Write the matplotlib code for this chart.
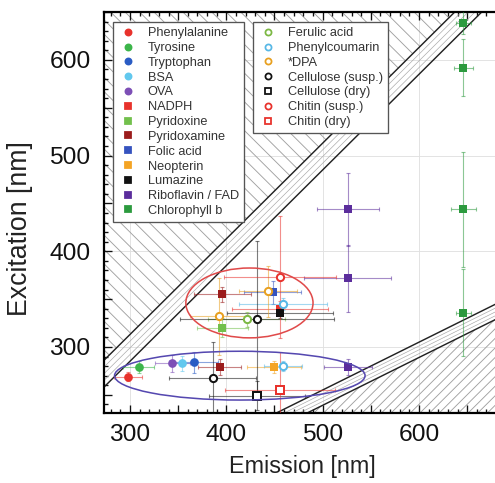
import matplotlib
matplotlib.use('Agg')
import matplotlib.pyplot as plt
import numpy as np
from matplotlib.lines import Line2D
from matplotlib.patches import Ellipse, Polygon
from matplotlib.collections import LineCollection
from matplotlib.ticker import MultipleLocator, FuncFormatter

plt.rcParams['font.family'] = ['Liberation Sans', 'DejaVu Sans']

# compounds: name, colour, marker, filled
compound_names = ['Phenylalanine', 'Tyrosine', 'Tryptophan', 'BSA', 'OVA',
                  'NADPH', 'Pyridoxine', 'Pyridoxamine', 'Folic acid',
                  'Neopterin', 'Lumazine', 'Riboflavin / FAD', 'Chlorophyll b',
                  'Ferulic acid', 'Phenylcoumarin', '*DPA', 'Cellulose (susp.)',
                  'Cellulose (dry)', 'Chitin (susp.)', 'Chitin (dry)']
compound_colors = ['#e8322c', '#3cb54a', '#2a5cc4', '#62c8ee', '#7d4fb6',
                   '#e8322c', '#72c04c', '#9b1c1c', '#3553bf', '#f4a424',
                   '#111111', '#5b2d9c', '#2c9a3e',
                   '#7cb844', '#58b8e6', '#e8a020', '#111111',
                   '#111111', '#e8322c', '#e8322c']
compound_markers = ['o'] * 5 + ['s'] * 8 + ['o', 'o', 'o', 'o', 's', 'o', 's']
compound_filled = [True] * 13 + [False] * 7

# measured peaks: compound index, emission, excitation, errors (nm)
point_compound = [0, 1, 2, 3, 4, 5, 6, 7, 7, 8, 9, 10, 11, 11, 11,
                  12, 12, 12, 12, 13, 14, 14, 15, 15, 16, 16, 17, 18, 19]
point_em = [298, 309, 366, 354, 344, 456, 396, 396, 393, 448, 449, 456, 526, 526, 526,
            646, 646, 646, 646, 421, 459, 459, 443, 392, 432, 386, 432, 456, 456]
point_ex = [269, 279, 284, 283, 283, 340, 320, 355, 279, 357, 279, 336, 444, 372, 279,
            639, 592, 444, 336, 329, 345, 280, 358, 332, 329, 268, 249, 373, 255]
point_em_err = [15, 16, 25, 14, 18, 50, 26, 30, 22, 30, 28, 55, 32, 45, 25,
                8, 10, 13, 8, 40, 46, 20, 30, 30, 80, 45, 50, 58, 57]
point_ex_err = [5, 6, 11, 8, 9, 8, 10, 8, 8, 12, 6, 6, 38, 35, 8,
                12, 30, 60, 45, 8, 6, 5, 27, 40, 82, 37, 15, 64, 40]

# clusters
red_ellipse = (424, 346, 132, 73)     # centre em, centre ex, width, height
blue_ellipse = (414, 270, 260, 51)

x_min, x_max, y_min, y_max = 273, 684, 231, 650

fig = plt.figure(figsize=(495 / 80, 483 / 80), dpi=80)
ax = fig.add_axes([0.21, 0.145, 0.80, 0.83])
ax.set_xlim(x_min, x_max)
ax.set_ylim(y_min, y_max)

# light grid
for v in [300, 400, 500, 600]:
    ax.axvline(v, color='#e0e0e0', lw=0.8, zorder=0)
    ax.axhline(v, color='#e0e0e0', lw=0.8, zorder=0)

# scattering regions, hatched by hand (polygons kept inside the axes)
upper = Polygon([(x_min, x_min + 13), (y_max - 13, y_max), (x_min, y_max)], closed=True,
                facecolor='none', edgecolor='none')
lower = Polygon([(2 * (y_min + 11), y_min), (x_max, x_max / 2 - 11), (x_max, y_min)],
                closed=True, facecolor='none', edgecolor='none')
ax.add_patch(upper)
ax.add_patch(lower)
segs = [[(c - 1000, 1000), (c + 1000, -1000)] for c in np.arange(0, 2000, 15)]
lc = LineCollection(segs, colors='#a0a0a0', linewidths=0.8, zorder=1)
lc.set_clip_path(upper)
ax.add_collection(lc)
segs = [[(c - 1000, -1000), (c + 1000, 1000)] for c in np.arange(-500, 1000, 10)]
lc = LineCollection(segs, colors='#a0a0a0', linewidths=0.8, zorder=1)
lc.set_clip_path(lower)
ax.add_collection(lc)

em = np.linspace(200, 750, 200)
for off in [13, -15]:
    ax.plot(em, em + off, color='#222222', lw=1.3, zorder=2)
for off in [6, -1, -8]:
    ax.plot(em, em + off, color='#aaaaaa', lw=0.6, zorder=2)
for off in [5, -11]:
    ax.plot(em, em / 2 + off, color='#222222', lw=1.3, zorder=2)
for off in [1, -3, -7]:
    ax.plot(em, em / 2 + off, color='#aaaaaa', lw=0.6, zorder=2)

# points with error bars
for i in range(len(point_em)):
    c = point_compound[i]
    col = compound_colors[c]
    ax.errorbar(point_em[i], point_ex[i], xerr=point_em_err[i], yerr=point_ex_err[i],
                fmt='none', ecolor=col, elinewidth=1, capsize=2, alpha=0.55, zorder=3)
    ax.plot(point_em[i], point_ex[i], marker=compound_markers[c], ms=6 if compound_filled[c] else 6.5,
            color=col, mfc=col if compound_filled[c] else 'white', mew=1.8, ls='none', zorder=4)

for (cx, cy, w, h), col in [(red_ellipse, '#e04a4a'), (blue_ellipse, '#5548b0')]:
    ax.add_patch(Ellipse((cx, cy), w, h, facecolor='none', edgecolor=col, lw=1.4, zorder=5))

# ticks
ax.xaxis.set_major_locator(MultipleLocator(50))
ax.yaxis.set_major_locator(MultipleLocator(50))
ax.xaxis.set_minor_locator(MultipleLocator(10))
ax.yaxis.set_minor_locator(MultipleLocator(10))
fmt = FuncFormatter(lambda v, p: f'{int(v)}' if v % 100 == 0 else '')
ax.xaxis.set_major_formatter(fmt)
ax.yaxis.set_major_formatter(fmt)
ax.tick_params(which='both', direction='in', top=True, right=False, width=1.2,
               labelsize=22, colors='#111111')
ax.tick_params(axis='x', pad=10)
ax.tick_params(axis='y', pad=12)
ax.tick_params(which='major', length=7)
ax.tick_params(which='minor', length=3.5)
for s in ax.spines.values():
    s.set_linewidth(2)
ax.spines['right'].set_visible(False)
ax.set_xlabel('Emission [nm]', fontsize=21, labelpad=8, color='#222222')
ax.set_ylabel('Excitation [nm]', fontsize=24, color='#222222')
ax.yaxis.set_label_coords(-0.18, 0.46)


def handles(idx):
    hs = []
    for c in idx:
        col = compound_colors[c]
        hs.append(Line2D([], [], marker=compound_markers[c], ls='none', color=col,
                         mfc=col if compound_filled[c] else 'white', mew=1.6, ms=5.5,
                         label=compound_names[c]))
    return hs


legend_kw = dict(loc='upper left', borderaxespad=0, fontsize=11.5, labelspacing=0.22,
                 handletextpad=0.8, handlelength=1.5, fancybox=False, framealpha=1,
                 edgecolor='#555555', borderpad=0.4)
leg1 = ax.legend(handles=handles(range(13)), bbox_to_anchor=(0.023, 0.975), **legend_kw)
ax.add_artist(leg1)
leg2 = ax.legend(handles=handles(range(13, 20)), bbox_to_anchor=(0.377, 0.975), **legend_kw)
for leg in [leg1, leg2]:
    leg.get_frame().set_linewidth(1.2)
    leg.set_zorder(10)
    for t in leg.get_texts():
        t.set_color('#333333')

fig.savefig('out.png', dpi=80)
